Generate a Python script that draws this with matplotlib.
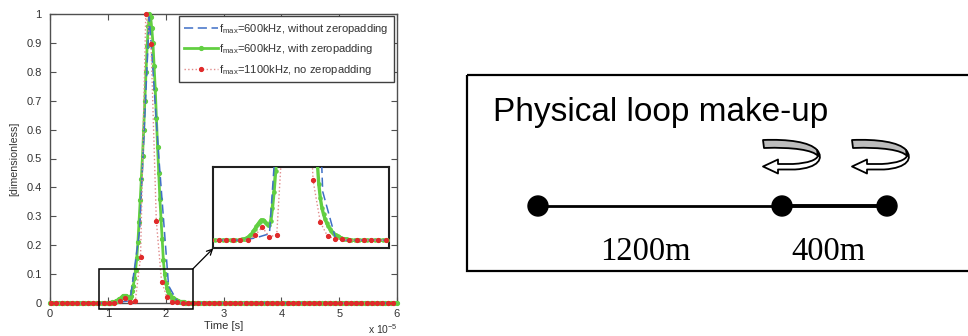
import numpy as np
import matplotlib
matplotlib.use("Agg")
import matplotlib.pyplot as plt
from matplotlib.patches import Rectangle, Circle, PathPatch
from matplotlib.path import Path

plt.rcParams['font.family'] = ['Liberation Sans', 'DejaVu Sans']
plt.rcParams['mathtext.fontset'] = 'custom'
plt.rcParams['mathtext.rm'] = 'Liberation Sans'
plt.rcParams['mathtext.it'] = 'Liberation Sans:italic'

# ---------------- data (time in units of 1e-5 s) ----------------
# fmax = 600 kHz, without zeropadding (sample spacing 1/6 of 1e-5 s)
blue_t = 0.05 + np.arange(36) / 6.0
blue_v = [0, 0, 0, 0, 0, 0,
          0.0, 0.003, 0.008, 0.25, 0.99, 0.50, 0.06, 0.0,
          0, 0, 0, 0, 0, 0, 0, 0, 0, 0, 0,
          0, 0, 0, 0, 0, 0, 0, 0, 0, 0, 0]

# fmax = 1100 kHz, no zeropadding (sample spacing 1/11 of 1e-5 s)
red_t = 0.02 + np.arange(66) / 11.0
red_v = [0, 0, 0, 0, 0, 0, 0, 0, 0, 0, 0, 0, 0,
         0.006, 0.016, 0.004, 0.007, 0.158, 1.0, 0.896, 0.285, 0.074,
         0.022, 0.005, 0.002, 0.001,
         0, 0, 0, 0, 0, 0, 0, 0, 0, 0, 0, 0, 0, 0, 0, 0, 0, 0, 0, 0,
         0, 0, 0, 0, 0, 0, 0, 0, 0, 0, 0, 0, 0, 0, 0, 0, 0, 0, 0, 0]

# fmax = 600 kHz, with zeropadding (dense samples)
green_t_head = np.round(np.arange(0, 20) * 0.05, 3)          # 0 .. 0.95
green_t_pulse = np.round(1.0 + np.arange(71) * 0.02, 3)      # 1.00 .. 2.40
green_t_tail = np.round(2.45 + np.arange(72) * 0.05, 3)      # 2.45 .. 6.00
green_v_head = [0, 0, 0, 0, 0, 0, 0, 0, 0, 0,
                0, 0, 0, 0, 0, 0, 0, 0, 0, 0]
green_v_pulse = [0.000, 0.000, 0.001, 0.001, 0.002, 0.003, 0.004, 0.006, 0.008, 0.011,
                 0.014, 0.017, 0.020, 0.023, 0.025, 0.025, 0.024, 0.021, 0.019, 0.019,
                 0.024, 0.040, 0.060, 0.085, 0.115, 0.155, 0.210, 0.280, 0.355, 0.430,
                 0.510, 0.600, 0.700, 0.800, 0.890, 0.960, 1.000, 0.990, 0.950, 0.900,
                 0.820, 0.740, 0.640, 0.540, 0.450, 0.360, 0.290, 0.220, 0.150, 0.100,
                 0.070, 0.052, 0.040, 0.032, 0.026, 0.021, 0.017, 0.014, 0.011, 0.009,
                 0.007, 0.006, 0.005, 0.004, 0.003, 0.002, 0.002, 0.001, 0.001, 0.000,
                 0.000]
green_v_tail = [0, 0, 0, 0, 0, 0, 0, 0, 0, 0, 0, 0, 0, 0, 0, 0, 0, 0,
                0, 0, 0, 0, 0, 0, 0, 0, 0, 0, 0, 0, 0, 0, 0, 0, 0, 0,
                0, 0, 0, 0, 0, 0, 0, 0, 0, 0, 0, 0, 0, 0, 0, 0, 0, 0,
                0, 0, 0, 0, 0, 0, 0, 0, 0, 0, 0, 0, 0, 0, 0, 0, 0, 0]
green_t = np.concatenate([green_t_head, green_t_pulse, green_t_tail])
green_v = np.array(green_v_head + green_v_pulse + green_v_tail)

legend_labels = [r'f$_{\rm max}$=600kHz, without zeropadding',
                 r'f$_{\rm max}$=600kHz, with zeropadding',
                 r'f$_{\rm max}$=1100kHz, no zeropadding']
xticks = [0, 1, 2, 3, 4, 5, 6]
yticks = [0, 0.1, 0.2, 0.3, 0.4, 0.5, 0.6, 0.7, 0.8, 0.9, 1.0]
ytick_labels = ['0', '0.1', '0.2', '0.3', '0.4', '0.5', '0.6', '0.7', '0.8', '0.9', '1']
zoom_box = (0.85, -0.02, 2.47, 0.118)   # region magnified in the inset

loop_title = 'Physical loop make-up'
loop_labels = ['1200m', '400m']

# ---------------- styling ----------------
BLUE = '#3f6fc6'
GREEN = '#62cf42'
RED = '#e02a2a'
RED_LINE = '#e08a8a'
AXC = '#505050'
TXT = '#333333'

W, H = 968, 336
fig = plt.figure(figsize=(W / 100, H / 100), dpi=100)


def fx(px):
    return px / W


def fy(py):
    return 1 - py / H


ax = fig.add_axes([fx(50), fy(303), fx(397) - fx(50), fy(14) - fy(303)])


def draw_series(a, lwg, msg):
    g, = a.plot(green_t, green_v, '-', color=GREEN, lw=lwg, marker='.', ms=msg,
                mfc=GREEN, mec=GREEN, clip_on=(a is not ax), zorder=3)
    b, = a.plot(blue_t, blue_v, color=BLUE, lw=1.1, ls=(0, (6, 3)),
                clip_on=(a is not ax), zorder=4)
    r, = a.plot(red_t, red_v, ':', color=RED_LINE, lw=1.0, marker='.', ms=5.5,
                mfc=RED, mec=RED, clip_on=(a is not ax), zorder=5)
    return b, g, r


b, g, r = draw_series(ax, 2.0, 5.5)
ax.set_xlim(0, 6)
ax.set_ylim(0, 1)
ax.set_xticks(xticks)
ax.set_xticklabels([str(v) for v in xticks])
ax.set_yticks(yticks)
ax.set_yticklabels(ytick_labels)
ax.tick_params(direction='in', top=True, right=True, length=4, width=0.8,
               color=AXC, labelcolor=TXT, labelsize=8)
ax.tick_params(axis='y', pad=6)
ax.tick_params(axis='x', pad=4)
for s in ax.spines.values():
    s.set_color(AXC)
    s.set_linewidth(1.0)
ax.set_xlabel('Time [s]', fontsize=8, color=TXT, labelpad=2)
ax.set_ylabel('[dimensionless]', fontsize=7.7, color=TXT, labelpad=5)
fig.text(fx(368), fy(334), r'x 10$^{-5}$', fontsize=7.5, color=TXT, ha='left', va='baseline')

leg = ax.legend([b, g, r], legend_labels, loc='upper right',
                bbox_to_anchor=(fx(394), fy(16)), bbox_transform=fig.transFigure,
                fontsize=8, handlelength=3.0, handletextpad=0.1, numpoints=1,
                labelspacing=0.6, borderpad=0.5, fancybox=False, framealpha=1,
                borderaxespad=0)
leg.get_frame().set_edgecolor('#404040')
leg.get_frame().set_linewidth(1.0)
for t in leg.get_texts():
    t.set_color(TXT)

# zoom rectangle in main axes
x0, y0, x1, y1 = zoom_box
ax.add_patch(Rectangle((x0, y0), x1 - x0, y1 - y0, fill=False, ec='black',
                       lw=1.1, clip_on=False, zorder=6))

# inset axes
axins = fig.add_axes([fx(213.3), fy(248.3), fx(389) - fx(213.3), fy(167.3) - fy(248.3)])
draw_series(axins, 2.4, 4.5)
axins.set_xlim(0.68, 2.88)
axins.set_ylim(-0.01, 0.09)
axins.set_xticks([])
axins.set_yticks([])
for s in axins.spines.values():
    s.set_color('#202020')
    s.set_linewidth(1.5)

ax.annotate('', xy=(0, 0), xycoords=axins.transAxes, xytext=(x1, y1), textcoords='data',
            arrowprops=dict(arrowstyle='->', color='black', lw=0.9, shrinkA=0, shrinkB=0,
                            mutation_scale=10),
            annotation_clip=False, zorder=7)

# ---------------- right panel: physical loop diagram ----------------
axr = fig.add_axes([0, 0, 1, 1])
axr.set_xlim(0, W)
axr.set_ylim(H, 0)
axr.set_axis_off()
axr.patch.set_visible(False)

axr.add_patch(Rectangle((467, 75), 540, 196, fill=False, ec='black', lw=1.6, clip_on=False))
axr.text(493, 120.7, loop_title, fontsize=24, color='black', ha='left', va='baseline',
         family=['Liberation Sans', 'DejaVu Sans'])

node_x = [538, 782, 887]
node_y = 206
seg_lw = [2.0, 2.8]
for i in range(len(loop_labels)):
    axr.plot([node_x[i], node_x[i + 1]], [node_y, node_y], color='black',
             lw=seg_lw[i], solid_capstyle='butt')
for xn in node_x:
    axr.add_patch(Circle((xn, node_y), 10, color='black'))
label_x = [645, 828]
for lx, lab in zip(label_x, loop_labels):
    axr.text(lx, 260, lab, fontsize=23.5, ha='center', va='baseline',
             family=['Liberation Serif', 'DejaVu Serif'], color='black')


def twist(xo, yo):
    M, C, L, Z = Path.MOVETO, Path.CURVE4, Path.LINETO, Path.CLOSEPOLY
    white = [((54, 10), M), ((61, 18), C), ((56, 28), C), ((32, 29.5), C),
             ((15, 29.5), L), ((15, 33.5), L), ((0, 26.5), L), ((15, 19.5), L),
             ((15, 24), L), ((30, 24), L), ((46, 23), C), ((53, 20), C), ((55, 16), C),
             ((54, 10), Z)]
    gray = [((0, 0), M), ((25, -1), C), ((47, 2), C), ((54, 10), C),
            ((55, 16), L), ((50, 10), C), ((30, 7), C), ((1, 8), C), ((0, 0), Z)]
    for pts, fc in ((white, 'white'), (gray, '#bdbdbd')):
        verts = [(xo + u, yo + v) for (u, v), _ in pts]
        codes = [c for _, c in pts]
        axr.add_patch(PathPatch(Path(verts, codes), fc=fc, ec='black', lw=1.3,
                                joinstyle='round'))


twist(763, 140)
twist(852, 140)

fig.savefig('out.png', dpi=100)
